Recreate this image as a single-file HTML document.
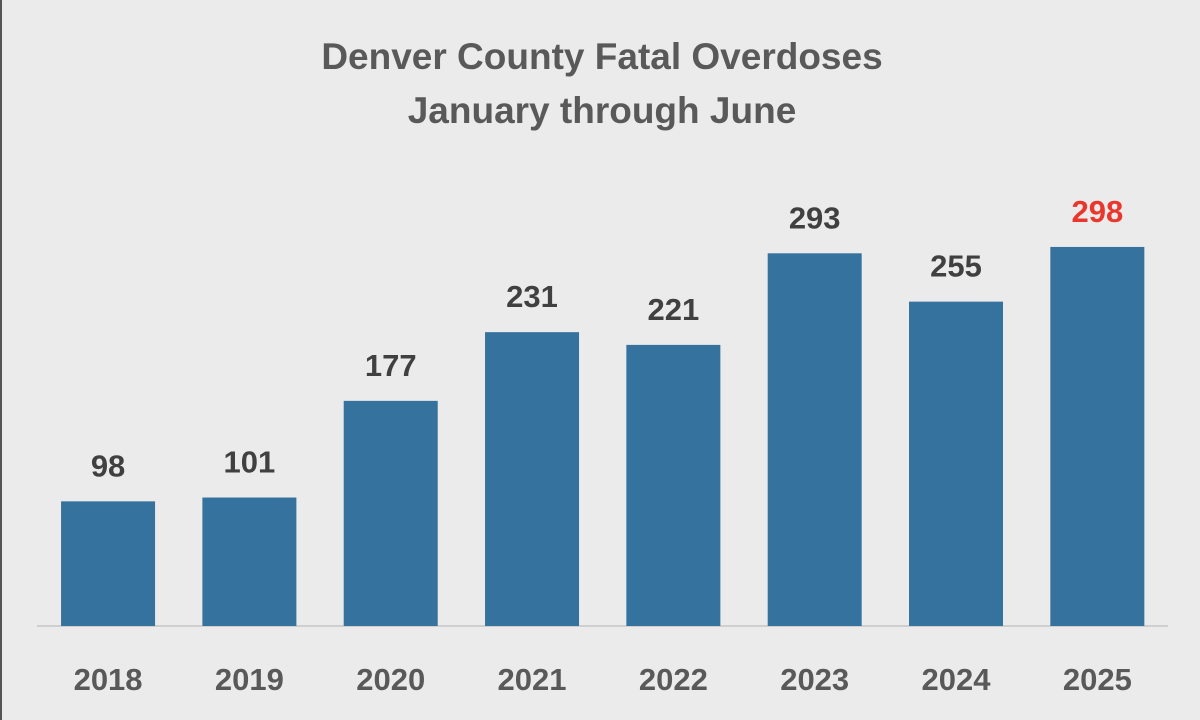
<!DOCTYPE html>
<html><head><meta charset="utf-8">
<style>
body{margin:0;background:#ebebeb;}
svg{display:block;font-family:"Liberation Sans",sans-serif;font-weight:bold;}
</style></head>
<body>
<svg id="chart" width="1200" height="720" viewBox="0 0 1200 720">
<rect x="0" y="0" width="1200" height="720" fill="#ebebeb"/>
<rect x="0" y="0" width="2" height="720" fill="#555"/>
<text x="602" y="69" font-size="37" fill="#595959" text-anchor="middle">Denver County Fatal Overdoses</text>
<text x="602" y="123" font-size="37" fill="#595959" text-anchor="middle">January through June</text>
<line x1="37" y1="626" x2="1168" y2="626" stroke="#cfcfcf" stroke-width="2"/>
<g id="bars"></g>
</svg>
<script>
const categories=["2018","2019","2020","2021","2022","2023","2024","2025"];
const values=[98,101,177,231,221,293,255,298];
const highlight=["2025"];
const left=37.4,right=1168,base=626,pxPerUnit=1.272;
const step=(right-left)/categories.length,bw=94;
const xc=i=>left+step*(i+0.5);
const y=v=>base-v*pxPerUnit;
const g=document.getElementById('bars');
const ns="http://www.w3.org/2000/svg";
categories.forEach((c,i)=>{
  const r=document.createElementNS(ns,'rect');
  
  
  r.setAttribute('x',xc(i)-bw/2);r.setAttribute('y',y(values[i]));
  r.setAttribute('width',bw);r.setAttribute('height',base-y(values[i]));
  r.setAttribute('fill','#35729e');g.appendChild(r);
  const t=document.createElementNS(ns,'text');
  
  
  t.setAttribute('x',xc(i));t.setAttribute('y',y(values[i])-25);
  t.setAttribute('text-anchor','middle');t.setAttribute('font-size','31');
  t.setAttribute('fill',highlight.includes(c)?'#e8372c':'#404040');
  t.textContent=values[i];g.appendChild(t);
  const l=document.createElementNS(ns,'text');
  
  
  l.setAttribute('x',xc(i));l.setAttribute('y',690);
  l.setAttribute('text-anchor','middle');l.setAttribute('font-size','31');
  l.setAttribute('fill','#595959');l.textContent=c;g.appendChild(l);
});
</script>
</body></html>
